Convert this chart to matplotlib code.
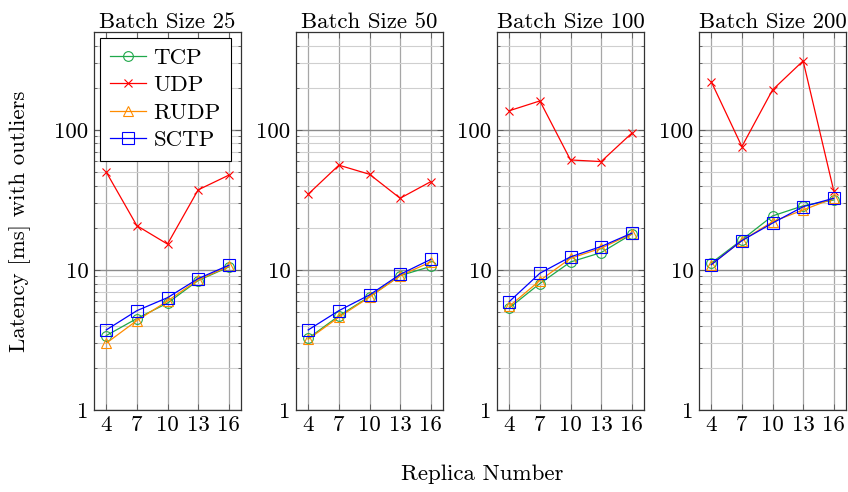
import numpy as np
import matplotlib
matplotlib.use("Agg")
import matplotlib.pyplot as plt
from matplotlib.ticker import FixedLocator, LogLocator, NullFormatter

plt.rcParams['font.family'] = ['cmr10', 'DejaVu Serif']
plt.rcParams['mathtext.fontset'] = 'cm'
plt.rcParams['axes.formatter.use_mathtext'] = True

# Latency per protocol for each batch size (ms)
replicas = [4, 7, 10, 13, 16]
batch_sizes = [25, 50, 100, 200]

tcp = [
    [3.4, 4.5, 5.8, 8.4, 10.5],
    [3.25, 4.7, 6.45, 9.1, 10.6],
    [5.35, 8.0, 11.4, 13.3, 18.0],
    [11.2, 16.4, 24.3, 28.7, 31.6],
]
udp = [
    [50, 20.7, 15.3, 37.3, 47.5],
    [34.8, 56, 48.2, 32.5, 42.7],
    [137, 161, 61, 59.4, 94.7],
    [221, 76, 193, 311, 36.7],
]
rudp = [
    [3.0, 4.35, 6.0, 8.5, 10.6],
    [3.2, 4.6, 6.4, 9.1, 11.4],
    [5.5, 8.4, 12.1, 14.3, 18.1],
    [10.9, 16.2, 22.1, 26.8, 32.5],
]
sctp = [
    [3.73, 5.12, 6.34, 8.67, 10.8],
    [3.73, 5.12, 6.63, 9.3, 11.9],
    [5.94, 9.47, 12.4, 14.7, 18.3],
    [10.9, 16.2, 21.6, 28.3, 32.5],
]

FS = 16.5

fig = plt.figure(figsize=(8.48, 4.92), dpi=100)

W, H = 848, 492
lefts = [94, 296, 497, 699]
for i, bs in enumerate(batch_sizes):
    ax = fig.add_axes([lefts[i] / W, 1 - 410 / H, 147 / W, (410 - 32) / H])
    ax.set_yscale('log')
    ax.set_ylim(1, 500)
    ax.set_xlim(2.8, 17.2)

    ax.plot(replicas, tcp[i], color='#1fa84a', lw=0.9, marker='o', ms=7,
            mfc='none', mew=0.8, label='TCP', zorder=3)
    ax.plot(replicas, udp[i], color='red', lw=0.9, marker='x', ms=6,
            mew=0.8, label='UDP', zorder=3)
    ax.plot(replicas, rudp[i], color='#ff8c00', lw=0.9, marker='^', ms=7,
            mfc='none', mew=0.8, label='RUDP', zorder=3)
    ax.plot(replicas, sctp[i], color='blue', lw=0.9, marker='s', ms=8,
            mfc='none', mew=0.8, label='SCTP', zorder=3)

    ax.xaxis.set_major_locator(FixedLocator(replicas))
    ax.set_xticklabels([str(r) for r in replicas])
    ax.yaxis.set_major_locator(FixedLocator([1, 10, 100]))
    ax.set_yticklabels(['1', '10', '100'])
    ax.yaxis.set_minor_locator(LogLocator(base=10, subs=np.arange(2, 10)))
    ax.yaxis.set_minor_formatter(NullFormatter())

    ax.grid(which='major', axis='y', color='#8c8c8c', lw=1.0)
    ax.grid(which='minor', axis='y', color='#cfcfcf', lw=0.8)
    ax.grid(which='major', axis='x', color='#a6a6a6', lw=0.9)
    ax.tick_params(which='both', direction='in', top=True, right=True,
                   labelsize=FS, length=4, width=0.6, colors='#555555',
                   labelcolor='black', pad=4)
    ax.tick_params(which='minor', length=2)
    for sp in ax.spines.values():
        sp.set_color('#333333')
        sp.set_linewidth(0.9)

    ax.set_title(f'Batch Size {bs}', fontsize=FS, pad=3)

    if i == 0:
        ax.set_ylabel('Latency [ms] with outliers', fontsize=FS, labelpad=17)
        leg = ax.legend(loc='upper left', fontsize=FS, frameon=True,
                        fancybox=False, edgecolor='black', framealpha=1,
                        borderpad=0.45, labelspacing=0.32, handlelength=1.55,
                        handletextpad=0.35, borderaxespad=0.25)
        leg.get_frame().set_linewidth(0.8)

fig.text(482 / W, 1 - 474 / H, 'Replica Number', fontsize=FS,
         ha='center', va='center')

fig.savefig('out.png', dpi=100)
